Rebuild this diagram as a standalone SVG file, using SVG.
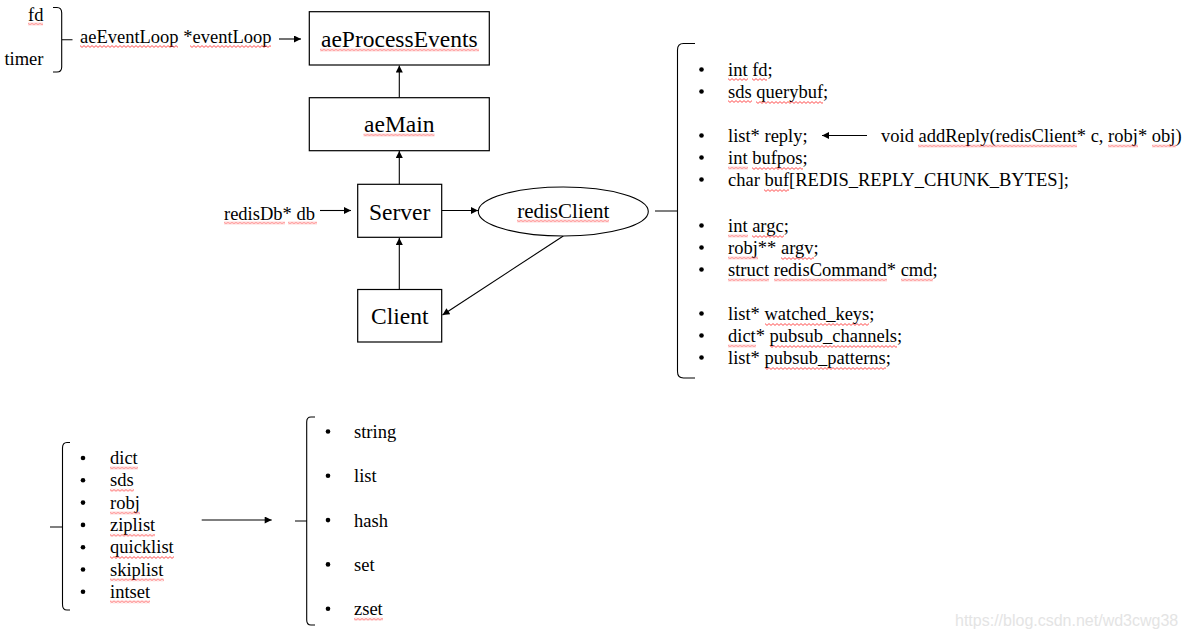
<svg xmlns="http://www.w3.org/2000/svg" width="1185" height="638" viewBox="0 0 1185 638">
<style>
text{font-family:"Liberation Serif","Times New Roman",serif;fill:#000}
.s{font-size:18.5px}
.t{font-size:23.5px;text-anchor:middle}
.e{font-size:21px;text-anchor:middle}
.box{fill:#fff;stroke:#000;stroke-width:1.2}
.ln{fill:none;stroke:#000;stroke-width:1.1}
.br{fill:none;stroke:#000;stroke-width:1.1}
.wm{font-family:"Liberation Sans",Arial,sans-serif;font-size:16px;fill:#e4e4e4}
</style>
<defs>
<marker id="ah" viewBox="0 0 10 10" refX="10" refY="5" markerWidth="8" markerHeight="7" orient="auto" markerUnits="userSpaceOnUse"><path d="M0,0 L10,5 L0,10 z" fill="#000"/></marker>
<pattern id="sq" width="4" height="3" patternUnits="userSpaceOnUse"><path d="M0,0.6 L2,2.4 L4,0.6" fill="none" stroke="#f22" stroke-width="0.8"/></pattern>
<circle id="b" r="2.3" fill="#000"/>
</defs>

<g id="connectors">
<line class="ln" x1="279" y1="39" x2="301" y2="39" marker-end="url(#ah)"/>
<line class="ln" x1="399.3" y1="97.5" x2="399.3" y2="65.5" marker-end="url(#ah)"/>
<line class="ln" x1="399.3" y1="184" x2="399.3" y2="151" marker-end="url(#ah)"/>
<line class="ln" x1="320" y1="210.5" x2="351" y2="210.5" marker-end="url(#ah)"/>
<line class="ln" x1="442" y1="210.5" x2="478" y2="210.5" marker-end="url(#ah)"/>
<line class="ln" x1="399.3" y1="289.5" x2="399.3" y2="238" marker-end="url(#ah)"/>
<line class="ln" x1="563.3" y1="236" x2="442.5" y2="315" marker-end="url(#ah)"/>
<line class="ln" x1="867" y1="135.5" x2="822" y2="135.5" marker-end="url(#ah)"/>
<line class="ln" x1="201.7" y1="520" x2="271.7" y2="520" marker-end="url(#ah)"/>
</g>

<g id="brace-eventloop">
<path class="br" d="M53,7.5 H57 Q61.7,7.5 61.7,13 V67 Q61.7,72 57,72 H53 M61.7,39.7 H72.5"/>
<text class="s" x="43.5" y="21" text-anchor="end">fd</text>
<text class="s" x="43.5" y="65" text-anchor="end">timer</text>
<text class="s" x="80" y="43">aeEventLoop *eventLoop</text>
</g>

<g id="aeProcessEvents">
<rect class="box" x="309.3" y="11.7" width="180" height="53.3"/>
<text class="t" x="399.3" y="47">aeProcessEvents</text>
</g>

<g id="aeMain">
<rect class="box" x="309.3" y="97.7" width="180" height="53"/>
<text class="t" x="399.3" y="132">aeMain</text>
</g>

<g id="redisDb">
<text class="s" x="224" y="219.5">redisDb* db</text>
</g>

<g id="Server">
<rect class="box" x="357.7" y="184.3" width="84" height="53"/>
<text class="t" x="399.7" y="219.5">Server</text>
</g>

<g id="Client">
<rect class="box" x="357.7" y="289.5" width="84" height="52.5"/>
<text class="t" x="399.7" y="324">Client</text>
</g>

<g id="redisClient">
<ellipse cx="563.3" cy="211.5" rx="85" ry="24.5" fill="#fff" stroke="#000" stroke-width="1.1"/>
<text class="e" x="563.3" y="218">redisClient</text>
</g>

<g id="redisClient-fields">
<path class="br" d="M695,43.5 H683.5 Q677.5,43.5 677.5,50 V371.5 Q677.5,378 683.5,378 H695 M655,211 H677.5"/>
<use href="#b" x="701.5" y="69.5"/><text class="s" x="728" y="76">int fd;</text>
<use href="#b" x="701.5" y="91.5"/><text class="s" x="728" y="98">sds querybuf;</text>
<use href="#b" x="701.5" y="135.5"/><text class="s" x="728" y="142">list* reply;</text>
<use href="#b" x="701.5" y="157.5"/><text class="s" x="728" y="164">int bufpos;</text>
<use href="#b" x="701.5" y="179.5"/><text class="s" x="728" y="186">char buf[REDIS_REPLY_CHUNK_BYTES];</text>
<use href="#b" x="701.5" y="225.5"/><text class="s" x="728" y="232">int argc;</text>
<use href="#b" x="701.5" y="247.5"/><text class="s" x="728" y="254">robj** argv;</text>
<use href="#b" x="701.5" y="269.5"/><text class="s" x="728" y="276">struct redisCommand* cmd;</text>
<use href="#b" x="701.5" y="313.5"/><text class="s" x="728" y="320">list* watched_keys;</text>
<use href="#b" x="701.5" y="335.5"/><text class="s" x="728" y="342">dict* pubsub_channels;</text>
<use href="#b" x="701.5" y="357.5"/><text class="s" x="728" y="364">list* pubsub_patterns;</text>
</g>

<g id="addReply">
<text class="s" x="881" y="142">void addReply(redisClient* c, robj* obj)</text>
</g>

<g id="structures">
<path class="br" d="M70,442.5 H67 Q62.5,442.5 62.5,448 V604.5 Q62.5,610 67,610 H70 M50,527 H62.5"/>
<use href="#b" x="83" y="458"/><text class="s" x="110" y="464">dict</text>
<use href="#b" x="83" y="480.3"/><text class="s" x="110" y="486.3">sds</text>
<use href="#b" x="83" y="502.6"/><text class="s" x="110" y="508.6">robj</text>
<use href="#b" x="83" y="524.9"/><text class="s" x="110" y="530.9">ziplist</text>
<use href="#b" x="83" y="547.2"/><text class="s" x="110" y="553.2">quicklist</text>
<use href="#b" x="83" y="569.5"/><text class="s" x="110" y="575.5">skiplist</text>
<use href="#b" x="83" y="591.8"/><text class="s" x="110" y="597.8">intset</text>
</g>

<g id="types">
<path class="br" d="M315,417 H311 Q306.7,417 306.7,422 V620 Q306.7,625 311,625 H315 M295,521 H306.7"/>
<use href="#b" x="328" y="431.5"/><text class="s" x="354" y="438">string</text>
<use href="#b" x="328" y="475.8"/><text class="s" x="354" y="482.3">list</text>
<use href="#b" x="328" y="520.1"/><text class="s" x="354" y="526.6">hash</text>
<use href="#b" x="328" y="564.4"/><text class="s" x="354" y="570.9">set</text>
<use href="#b" x="328" y="608.7"/><text class="s" x="354" y="615.2">zset</text>
</g>

<g id="spellcheck-underlines" fill="url(#sq)">
<rect transform="translate(28,22.5)" width="15" height="3"/>
<rect transform="translate(80,45)" width="98" height="3"/>
<rect transform="translate(190,45)" width="81" height="3"/>
<rect transform="translate(320,48.5)" width="159" height="3"/>
<rect transform="translate(363.5,133.5)" width="71" height="3"/>
<rect transform="translate(224,221.5)" width="61" height="3"/>
<rect transform="translate(288,221.5)" width="29" height="3"/>
<rect transform="translate(517,219.5)" width="92" height="3"/>
<rect transform="translate(728,78)" width="20" height="3"/>
<rect transform="translate(752,78)" width="15" height="3"/>
<rect transform="translate(728,100)" width="24" height="3"/>
<rect transform="translate(756,101)" width="67" height="3"/>
<rect transform="translate(918,144.5)" width="159" height="3"/>
<rect transform="translate(1108,144.5)" width="30" height="3"/>
<rect transform="translate(1152,144.5)" width="24" height="3"/>
<rect transform="translate(728,166.5)" width="20" height="3"/>
<rect transform="translate(752,167)" width="51" height="3"/>
<rect transform="translate(764,189)" width="25" height="3"/>
<rect transform="translate(728,234.5)" width="20" height="3"/>
<rect transform="translate(752,235)" width="32" height="3"/>
<rect transform="translate(728,256.5)" width="30" height="3"/>
<rect transform="translate(781,257)" width="33" height="3"/>
<rect transform="translate(728,278.5)" width="41" height="3"/>
<rect transform="translate(774,278.5)" width="113" height="3"/>
<rect transform="translate(901,278.5)" width="32" height="3"/>
<rect transform="translate(765,323)" width="104" height="3"/>
<rect transform="translate(728,344.5)" width="28" height="3"/>
<rect transform="translate(770,345)" width="127" height="3"/>
<rect transform="translate(765,367)" width="121" height="3"/>
<rect transform="translate(110,466.5)" width="28" height="3"/>
<rect transform="translate(110,488.8)" width="24" height="3"/>
<rect transform="translate(110,511.5)" width="30" height="3"/>
<rect transform="translate(110,533.8)" width="45" height="3"/>
<rect transform="translate(110,556)" width="64" height="3"/>
<rect transform="translate(110,578.3)" width="54" height="3"/>
<rect transform="translate(110,600.3)" width="40" height="3"/>
<rect transform="translate(354,617.7)" width="29" height="3"/>
</g>

<text class="wm" x="955" y="626">https://blog.csdn.net/wd3cwg38</text>
</svg>
